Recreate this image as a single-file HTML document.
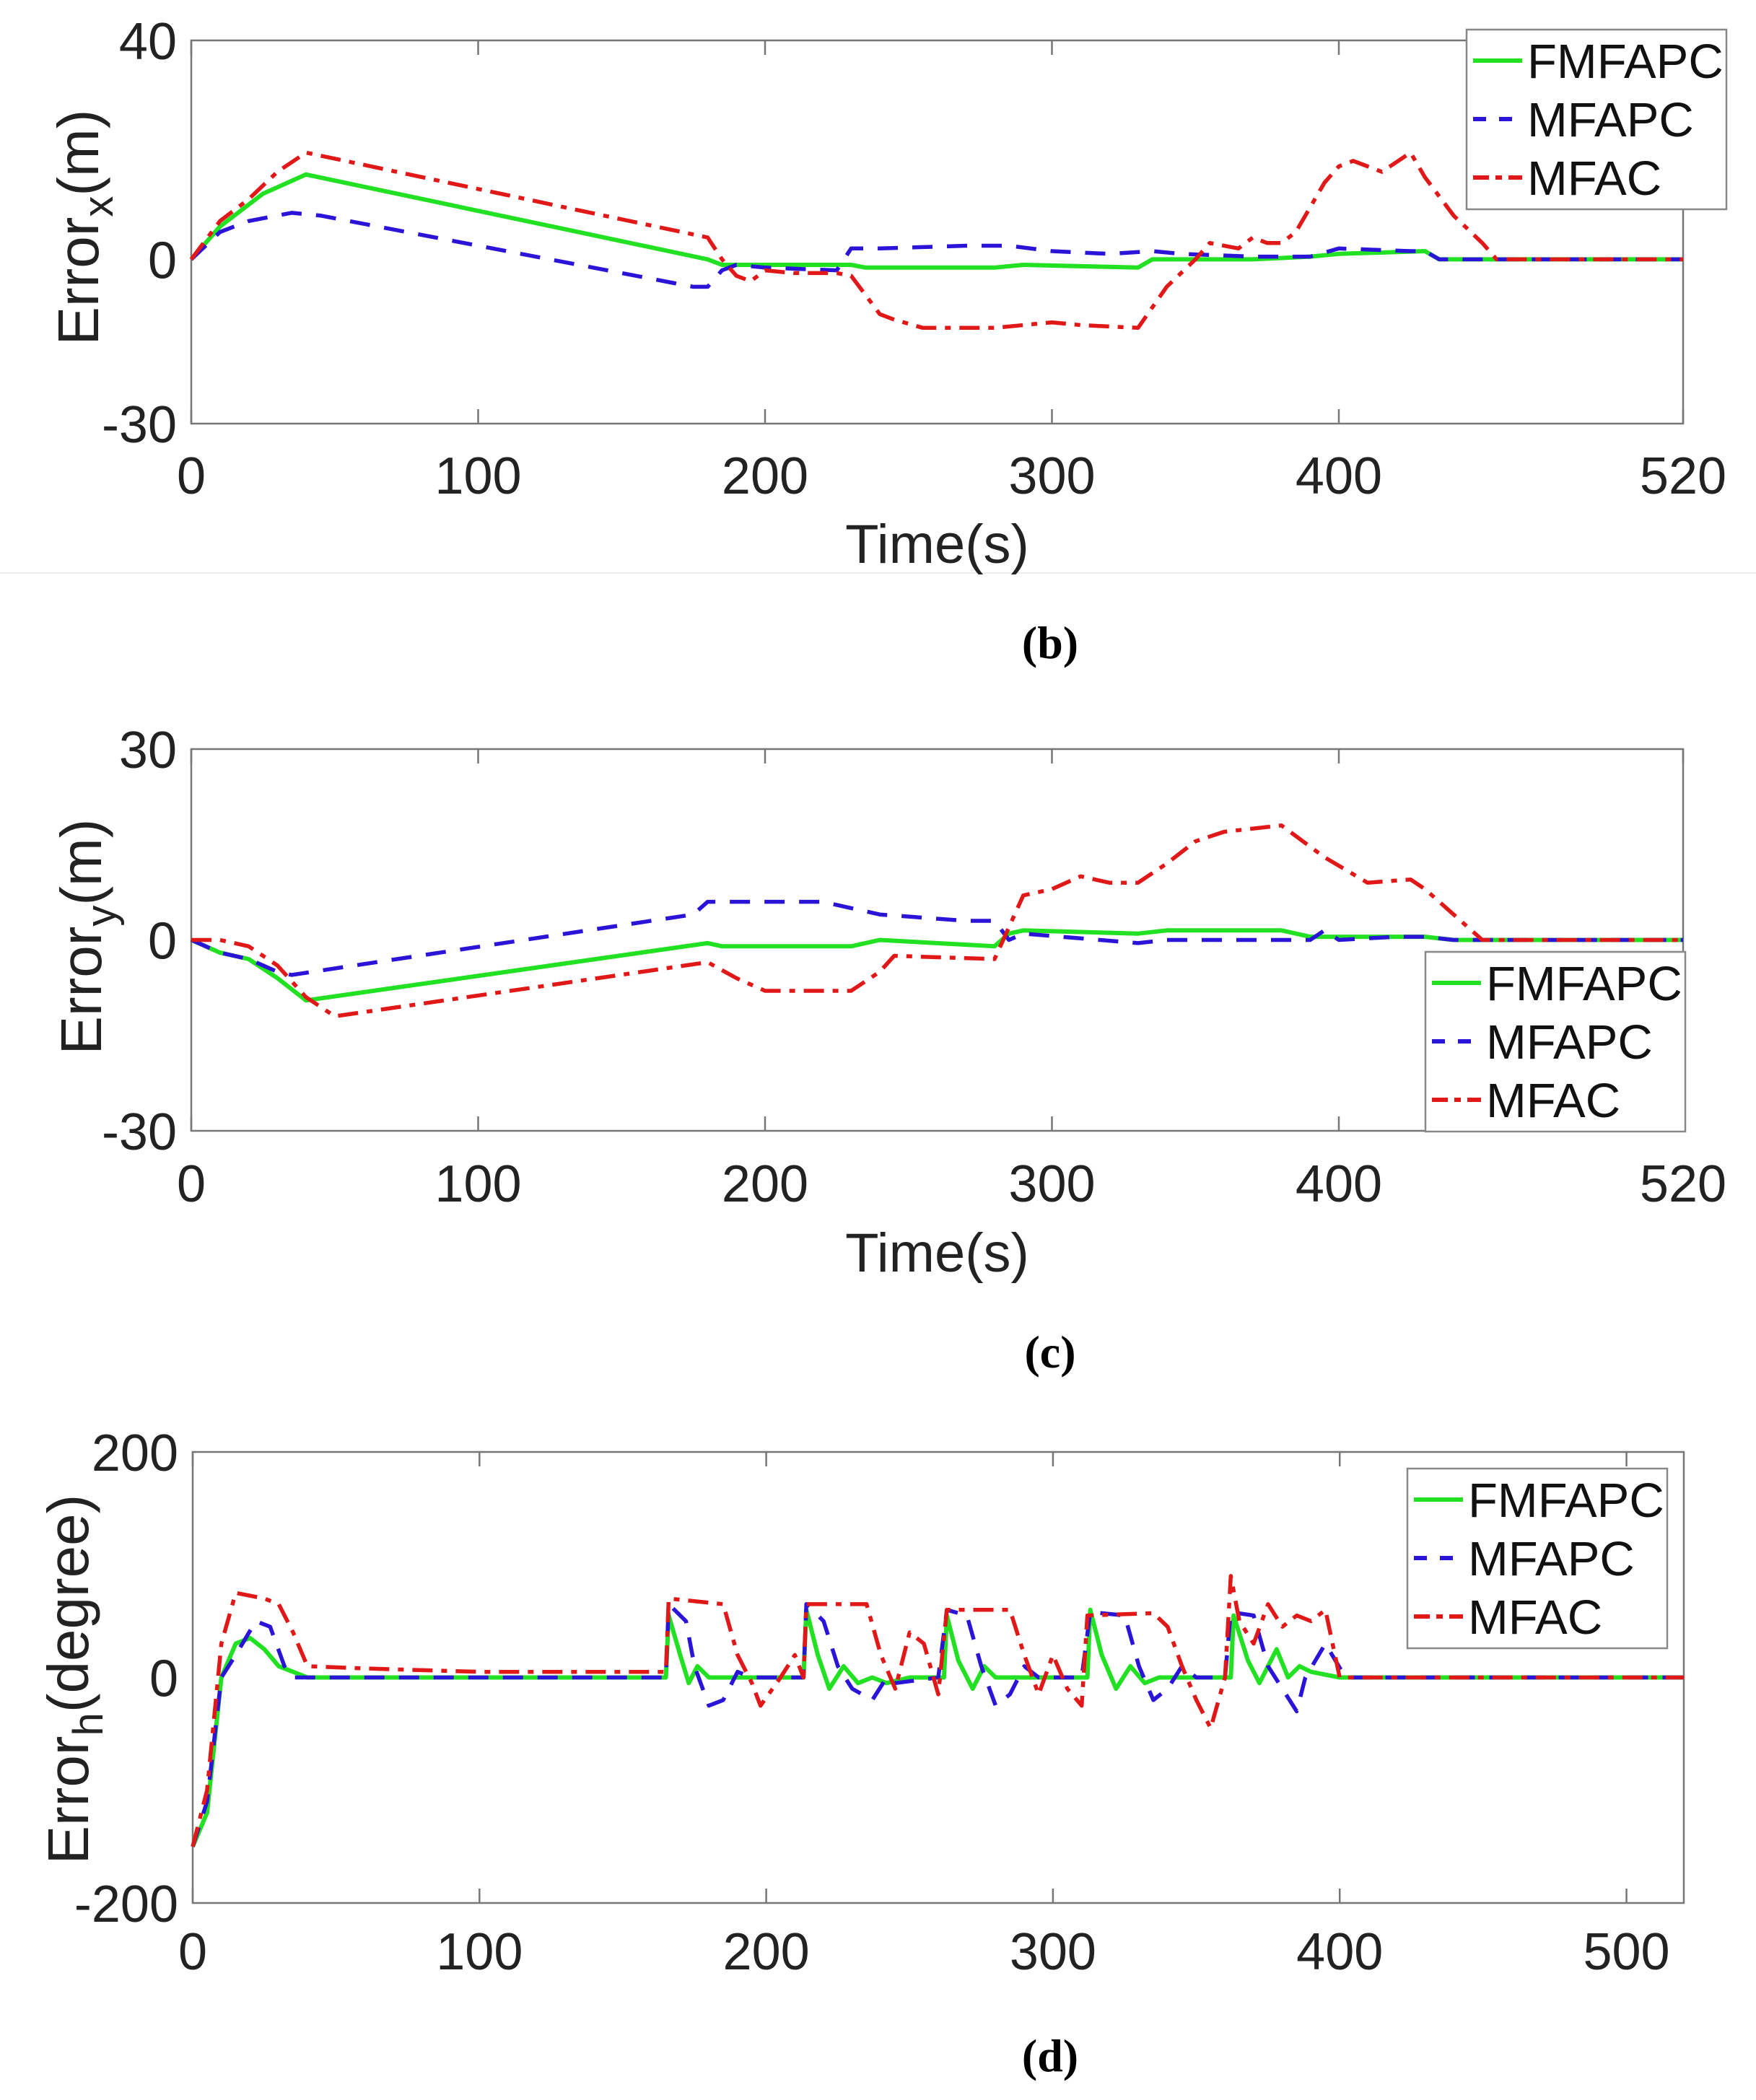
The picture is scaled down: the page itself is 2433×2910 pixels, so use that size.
<!DOCTYPE html>
<html><head><meta charset="utf-8"><style>
html,body{margin:0;padding:0;background:#fff;}
svg{display:block;font-family:"Liberation Sans",sans-serif;}
</style></head><body>
<svg id="fig" width="2433" height="2910" viewBox="0 0 2433 2910" xmlns="http://www.w3.org/2000/svg">
<line x1="0" y1="794" x2="2433" y2="794" stroke="#eeeeee" stroke-width="2"/>
<text x="1455" y="912" font-family="Liberation Serif,serif" font-size="64" font-weight="bold" text-anchor="middle">(b)</text>
<text x="1455" y="1895" font-family="Liberation Serif,serif" font-size="64" font-weight="bold" text-anchor="middle">(c)</text>
<text x="1455" y="2870" font-family="Liberation Serif,serif" font-size="64" font-weight="bold" text-anchor="middle">(d)</text>
</svg>
<script>
// ---- Chart b data ----
const bGreenT=[0,10,25,40,180,185,190,230,235,280,290,330,335,370,390,400,430,435,520];
const bGreenV=[0,6,12,15.5,0,-1,-1,-1,-1.5,-1.5,-1,-1.5,0,0,0.5,1,1.5,0,0];
const bBlueT=[0,10,20,35,45,175,180,185,190,200,225,230,240,270,285,300,320,335,345,370,390,400,425,430,435,520];
const bBlueV=[0,5,7,8.5,8,-5,-5,-2,-1,-1.5,-2,2,2,2.5,2.5,1.5,1,1.5,1,0.5,0.5,2,1.5,1.5,0,0];
const bRedT=[0,10,20,30,40,180,185,190,195,200,210,225,230,240,245,255,280,300,310,330,340,350,355,365,370,375,380,385,395,400,405,410,415,425,430,440,450,455,520];
const bRedV=[0,7,11,16,19.5,4,0,-3,-4,-2,-2.5,-2.5,-3,-10,-11,-12.5,-12.5,-11.5,-12,-12.5,-5,0,3,2,4,3,3,5,14,17,18,17,16,19.5,15,8,3,0,0];
const bXTicks=[0,100,200,300,400,520];
const bYTicks=[-30,0,40];
// ---- Chart c data ----
const cGreenT=[0,10,20,30,40,180,185,230,240,280,285,290,330,340,380,390,400,430,440,520];
const cGreenV=[0,-2,-3,-6,-9.5,-0.5,-1,-1,0,-1,1,1.5,1,1.5,1.5,0.5,0.5,0.5,0,0];
const cBlueT=[0,10,20,30,35,175,180,220,230,240,270,280,285,290,330,340,390,395,400,420,430,440,520];
const cBlueV=[0,-2,-3,-5,-5.5,4,6,6,5,4,3,3,0,1,-0.5,0,0,1.5,0,0.5,0.5,0,0];
const cRedT=[0,10,20,30,40,50,180,190,200,230,240,245,280,290,300,310,320,330,340,350,360,380,395,410,425,430,450,520];
const cRedV=[0,0,-1,-4,-9,-12,-3.5,-6,-8,-8,-5,-2.5,-3,7,8,10,9,9,12,15.5,17,18,13,9,9.5,8,0,0];
const cXTicks=[0,100,200,300,400,520];
const cYTicks=[-30,0,30];
// ---- Chart d data ----
const dGreenT=[0,5,10,15,20,25,30,35,40,165,166,170,173,176,180,213,214,218,222,227,232,237,242,250,262,263,267,272,276,280,312,313,317,322,327,332,337,362,363,368,372,378,382,386,390,400,520];
const dGreenV=[-150,-120,0,30,35,25,10,5,0,0,55,20,-5,10,0,0,60,20,-10,10,-5,0,-5,0,0,55,15,-10,10,0,0,60,20,-10,10,-5,0,0,55,15,-5,25,0,10,5,0,0];
const dBlueT=[0,5,10,15,22,27,32,35,165,166,172,175,180,185,190,195,213,214,220,225,230,237,242,245,260,263,270,275,280,285,290,295,310,313,325,330,335,340,345,350,360,362,370,375,385,388,395,402,520];
const dBlueV=[-150,-110,0,20,50,45,10,0,0,65,50,10,-25,-20,5,0,0,65,50,10,-10,-20,0,-5,0,60,55,10,-25,-15,10,0,0,58,55,10,-20,-10,10,0,0,58,55,10,-30,0,30,0,0];
const dRedT=[0,5,10,15,25,30,35,40,60,100,165,166,185,190,195,198,205,210,213,214,235,240,245,250,255,260,263,285,290,295,300,305,310,312,335,340,345,350,355,360,362,365,370,375,380,385,390,395,400,520];
const dRedV=[-150,-100,30,75,70,65,40,10,8,5,5,70,65,20,-5,-25,0,20,0,65,65,20,-10,40,30,-15,60,60,20,-15,20,-10,-25,55,57,45,10,-20,-45,0,90,50,30,65,45,55,50,60,0,0];
const dXTicks=[0,100,200,300,400,500];
const dYTicks=[-200,0,200];

const NS="http://www.w3.org/2000/svg";
const svg=document.getElementById('fig');
function mk(tag,attrs,parent){const e=document.createElementNS(NS,tag);for(const k in attrs)e.setAttribute(k,attrs[k]);(parent||svg).appendChild(e);return e;}

const COLORS={g:"#22e022",b:"#2a14d8",r:"#e01818"};
const DASH={g:"",b:"28,20",r:"28,12,8,12"};

function chart(cfg){
  const g=mk('g',{});
  
  
  const L=cfg.L,R=cfg.R,T=cfg.T,B=cfg.B;
  const sx=v=>L+(v-cfg.xmin)/(cfg.xmax-cfg.xmin)*(R-L);
  const sy=v=>B-(v-cfg.ymin)/(cfg.ymax-cfg.ymin)*(B-T);
  const frame=mk('rect',{x:L,y:T,width:R-L,height:B-T,fill:"#fff",stroke:"#777",'stroke-width':2.5},g);
  
  
  cfg.xt.forEach(t=>{
    const x=sx(t);
    const a=mk('line',{x1:x,y1:B,x2:x,y2:B-20,stroke:"#777",'stroke-width':2.5},g);
    
    
    const b=mk('line',{x1:x,y1:T,x2:x,y2:T+20,stroke:"#777",'stroke-width':2.5},g);
    
    
    const lb=mk('text',{x:x,y:cfg.xly,'font-size':72,'text-anchor':'middle',fill:"#222"},g);
    lb.textContent=t;
    
    
  });
  cfg.yt.forEach(t=>{
    const y=sy(t);
    const lb=mk('text',{x:L-20,y:y+26,'font-size':72,'text-anchor':'end',fill:"#222"},g);
    lb.textContent=t;
    
    
  });
  const series=[['g',cfg.gt,cfg.gv,'fmfapc-line'],['b',cfg.bt,cfg.bv,'mfapc-line'],['r',cfg.rt,cfg.rv,'mfac-line']];
  series.forEach(s=>{
    const d=s[1].map((t,i)=>(i?'L':'M')+sx(t).toFixed(1)+','+sy(s[2][i]).toFixed(1)).join('');
    const p=mk('path',{d:d,fill:'none',stroke:COLORS[s[0]],'stroke-width':s[0]==='g'?6:5.5,'stroke-dasharray':DASH[s[0]],'stroke-linejoin':'round'},g);
    
    
  });
  const lg=mk('g',{},g);
  
  
  const bx=cfg.lx,by=cfg.ly;
  mk('rect',{x:bx,y:by,width:360,height:249,fill:'#fff',stroke:'#888','stroke-width':2.5},lg);
  const names=[['g','FMFAPC'],['b','MFAPC'],['r','MFAC']];
  names.forEach((n,i)=>{
    const yy=by+43+i*81;
    const ln=mk('line',{x1:bx+9,y1:yy,x2:bx+77,y2:yy,stroke:COLORS[n[0]],'stroke-width':6,'stroke-dasharray':n[0]==='b'?'18,18':(n[0]==='r'?'22,9,9,9':'')},lg);
    
    
    const tx=mk('text',{x:bx+84,y:yy+24,'font-size':67,fill:'#111'},lg);
    tx.textContent=n[1];
    
    
  });
  const yl=mk('text',{transform:`translate(${cfg.ylx},${cfg.yly}) rotate(-90)`,'font-size':80,'text-anchor':'middle',fill:'#222'},g);
  yl.innerHTML=`Error<tspan dy="20" font-size="58">${cfg.sub}</tspan><tspan dy="-20">(${cfg.unit})</tspan>`;
  
  
  if(cfg.xtl){
    const xl=mk('text',{x:(L+R)/2,y:cfg.xtl,'font-size':76,'text-anchor':'middle',fill:'#222'},g);
    xl.textContent='Time(s)';
    
    
  }
}
chart({name:'chart-b',L:265,R:2332,T:56,B:587,xmin:0,xmax:520,ymin:-30,ymax:40,xt:bXTicks,yt:bYTicks,xly:684,
  gt:bGreenT,gv:bGreenV,bt:bBlueT,bv:bBlueV,rt:bRedT,rv:bRedV,lx:2032,ly:41,ylx:136,yly:315,sub:'x',unit:'m',xtl:780});
chart({name:'chart-c',L:265,R:2332,T:1038,B:1567,xmin:0,xmax:520,ymin:-30,ymax:30,xt:cXTicks,yt:cYTicks,xly:1665,
  gt:cGreenT,gv:cGreenV,bt:cBlueT,bv:cBlueV,rt:cRedT,rv:cRedV,lx:1975,ly:1319,ylx:140,yly:1298,sub:'y',unit:'m',xtl:1762});
chart({name:'chart-d',L:267,R:2333,T:2012,B:2637,xmin:0,xmax:520,ymin:-200,ymax:200,xt:dXTicks,yt:dYTicks,xly:2729,
  gt:dGreenT,gv:dGreenV,bt:dBlueT,bv:dBlueV,rt:dRedT,rv:dRedV,lx:1950,ly:2035,ylx:122,yly:2327,sub:'h',unit:'degree',xtl:0});
</script>
</body></html>
